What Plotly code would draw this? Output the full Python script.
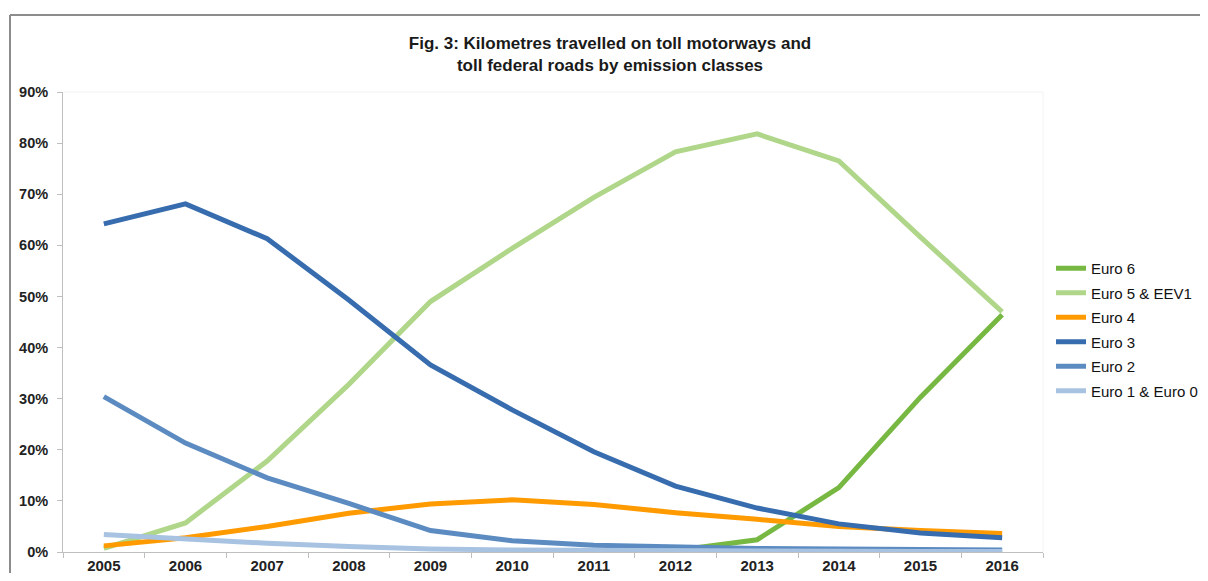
import plotly.graph_objects as go

years = ["2005", "2006", "2007", "2008", "2009", "2010", "2011", "2012", "2013", "2014", "2015", "2016"]
euro6 = [None, None, None, None, None, None, None, 0.3, 2.4, 12.6, 30.3, 46.4]
euro5_eev1 = [0.7, 5.7, 17.8, 32.8, 49.0, 59.4, 69.4, 78.3, 81.8, 76.5, 61.6, 47.0]
euro4 = [1.2, 2.8, 5.0, 7.6, 9.4, 10.2, 9.3, 7.7, 6.4, 5.0, 4.2, 3.6]
euro3 = [64.2, 68.1, 61.3, 49.3, 36.6, 27.8, 19.6, 12.9, 8.6, 5.5, 3.7, 2.8]
euro2 = [30.4, 21.3, 14.5, 9.5, 4.2, 2.2, 1.3, 0.9, 0.7, 0.6, 0.5, 0.4]
euro1_0 = [3.4, 2.5, 1.7, 1.1, 0.6, 0.4, 0.3, 0.2, 0.2, 0.1, 0.1, 0.1]

series = [
    ("Euro 6", euro6, "#77B843"),
    ("Euro 5 & EEV1", euro5_eev1, "#AFD689"),
    ("Euro 4", euro4, "#FF9A00"),
    ("Euro 3", euro3, "#376CAE"),
    ("Euro 2", euro2, "#5B8BC1"),
    ("Euro 1 & Euro 0", euro1_0, "#A8C3E1"),
]

fig = go.Figure()
for name, vals, color in series:
    fig.add_trace(go.Scatter(
        x=years,
        y=[None if v is None else v / 100 for v in vals],
        mode="lines",
        name=name,
        legendgroup=name,
        line=dict(color=color, width=5),
        connectgaps=False,
    ))

# page offset of the figure (browser body margin); figure sized to fit the viewport
OFF = 8
W, H = 1208 - 2 * OFF, 581 - 2 * OFF
L, R, T, B = 63 - OFF, W - (1043 - OFF), 92 - OFF, H - (552 - OFF)
PW = W - L - R
PH = H - T - B


def px_x(page_x):
    return (page_x - OFF - L) / PW


def px_y(page_y):
    return (H - B - (page_y - OFF)) / PH


fig.update_layout(
    width=W,
    height=H,
    margin=dict(l=L, r=R, t=T, b=B, autoexpand=False),
    paper_bgcolor="white",
    plot_bgcolor="white",
    title=dict(
        text="<b>Fig. 3: Kilometres travelled on toll motorways and<br>toll federal roads by emission classes</b>",
        x=(610 - OFF) / W,
        xanchor="center",
        y=1 - 41 / H,
        yanchor="top",
        font=dict(family="Liberation Sans Narrow, Arial Narrow, Liberation Sans, Arial", size=17, color="#1a1a1a"),
    ),
    font=dict(family="Liberation Sans, Arial", size=15, color="#222222"),
    showlegend=True,
    legend=dict(
        x=px_x(1051),
        xanchor="left",
        y=px_y(252),
        yanchor="top",
        font=dict(family="Liberation Sans, Arial", size=15, color="#111111"),
        tracegroupgap=2,
        itemwidth=30,
        bgcolor="rgba(0,0,0,0)",
    ),
    xaxis=dict(
        type="category",
        range=[-0.5, 11.5],
        automargin=False,
        showgrid=False,
        showline=True,
        linecolor="#BFBFBF",
        linewidth=1,
        ticks="outside",
        tickson="boundaries",
        ticklen=5,
        tickcolor="#BFBFBF",
        tickfont=dict(family="Liberation Sans, Arial", size=15, color="#222222", weight="bold"),
        zeroline=False,
    ),
    yaxis=dict(
        range=[0, 0.9],
        dtick=0.1,
        tickformat=".0%",
        automargin=False,
        showgrid=False,
        showline=True,
        linecolor="#BFBFBF",
        linewidth=1,
        ticks="outside",
        ticklen=5,
        tickcolor="#BFBFBF",
        ticklabelstandoff=6,
        tickfont=dict(family="Liberation Sans, Arial", size=14.5, color="#222222", weight="bold"),
        zeroline=False,
    ),
    shapes=[
        # faint plot-area border (top and right)
        dict(type="line", xref="paper", yref="paper", x0=0, x1=1, y0=1, y1=1,
             line=dict(color="#F2F2F2", width=1)),
        dict(type="line", xref="paper", yref="paper", x0=1, x1=1, y0=0, y1=1,
             line=dict(color="#F2F2F2", width=1)),
        # outer chart frame (top and left)
        dict(type="line", xref="paper", yref="paper",
             x0=px_x(10), x1=px_x(1215), y0=px_y(15), y1=px_y(15),
             line=dict(color="#8C8C8C", width=2)),
        dict(type="line", xref="paper", yref="paper",
             x0=px_x(10), x1=px_x(10), y0=px_y(15), y1=px_y(590),
             line=dict(color="#8C8C8C", width=2)),
    ],
)

fig.write_html("out.html")
